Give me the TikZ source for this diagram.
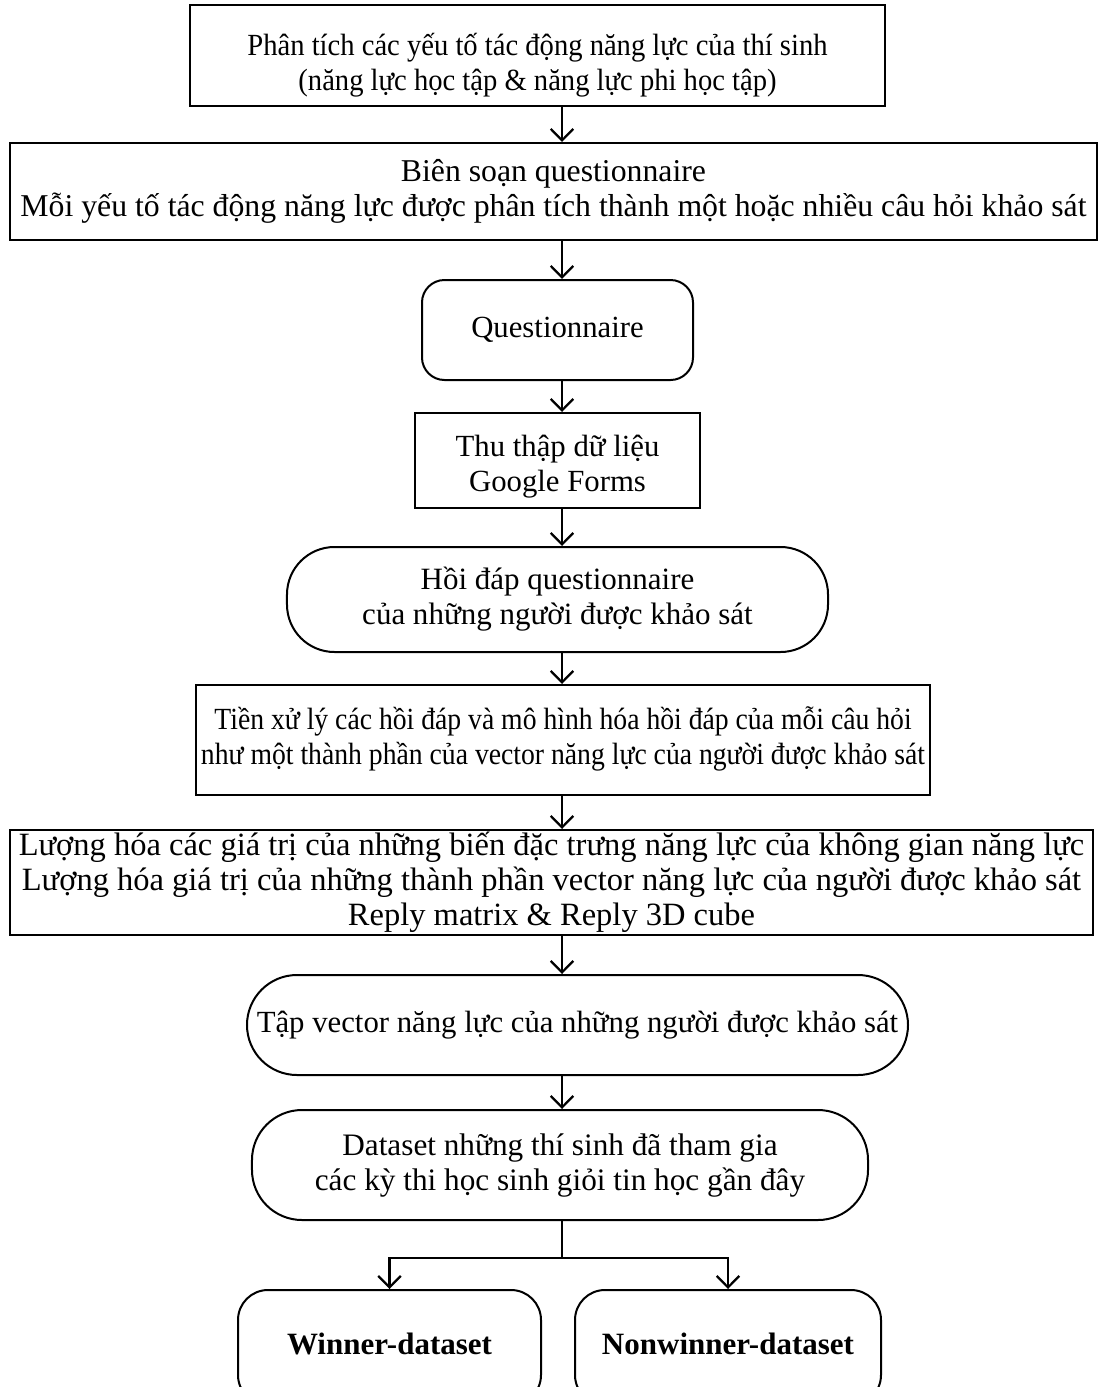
\documentclass[tikz,border=0pt]{standalone}
\usepackage{graphicx}
\usepackage{fontspec}
\setmainfont{Liberation Serif}
\usetikzlibrary{arrows.meta}
% centred block of lines, narrowed by #1 and moved down by #2, keeping the box height
\newcommand{\narrowlines}[3]{\raisebox{#2}[\height][\depth]{\scalebox{#1}[1]{\begin{tabular}{@{}c@{}}#3\end{tabular}}}}
\begin{document}
\begin{tikzpicture}[x=0.4pt, y=-0.4pt,
  every node/.style={align=center, inner sep=0pt},
  fs/.style={font=\fontsize{#1}{14pt}\selectfont},
  fs/.default=12.3pt,
  procbox/.style={draw, line width=0.8pt},
  roundbox/.style={draw, line width=0.8pt, rounded corners=#1},
  arr/.style={line width=0.9pt, -{Straight Barb[length=4.6pt, width=9pt, line width=0.9pt]}},
  link/.style={line width=0.9pt}
]
\useasboundingbox (0,0) rectangle (1098,1387);
\clip (0,0) rectangle (1098,1387);

% column of process steps
\node[procbox, fs, minimum width=278pt, minimum height=40.4pt] (b1) at (537.5,55.5)
  {\narrowlines{0.93}{-4pt}{Phân tích các yếu tố tác động năng lực của thí sinh\\(năng lực học tập \& năng lực phi học tập)}};
\node[procbox, fs=12.7pt, minimum width=434.8pt, minimum height=38.8pt] (b2) at (553.5,191.5)
  {Biên soạn questionnaire\\Mỗi yếu tố tác động năng lực được phân tích thành một hoặc nhiều câu hỏi khảo sát};
\node[roundbox=9pt, fs, minimum width=108.4pt, minimum height=40pt] (b3) at (557.5,330)
  {Questionnaire};
\node[procbox, fs, minimum width=114pt, minimum height=38pt] (b4) at (557.5,460.5)
  {\narrowlines{1}{-2.6pt}{Thu thập dữ liệu\\Google Forms}};
\node[roundbox=19pt, fs=12.4pt, minimum width=216.4pt, minimum height=42pt] (b5) at (557.5,599.5)
  {Hồi đáp questionnaire\\của những người được khảo sát};
\node[procbox, fs, minimum width=293.6pt, minimum height=44pt] (b6) at (563,740)
  {\narrowlines{0.9}{0pt}{Tiền xử lý các hồi đáp và mô hình hóa hồi đáp của mỗi câu hỏi\\như một thành phần của vector năng lực của người được khảo sát}};
\node[procbox, fs=13pt, minimum width=433.2pt, minimum height=42pt] (b7) at (551.5,882.5)
  {Lượng hóa các giá trị của những biến đặc trưng năng lực của không gian năng lực\\Lượng hóa giá trị của những thành phần vector năng lực của người được khảo sát\\Reply matrix \& Reply 3D cube};
\node[roundbox=20pt, fs, minimum width=264.4pt, minimum height=40pt] (b8) at (577.5,1025)
  {Tập vector năng lực của những người được khảo sát};
\node[roundbox=20pt, fs=12.5pt, minimum width=246.4pt, minimum height=44pt] (b9) at (560,1165)
  {Dataset những thí sinh đã tham gia\\các kỳ thi học sinh giỏi tin học gần đây};

% the two resulting datasets
\node[roundbox=12pt, fs=12.4pt, minimum width=121.2pt, minimum height=46pt] (b10) at (389.5,1347.5)
  {\raisebox{3.2pt}{\textbf{Winner-dataset}}};
\node[roundbox=12pt, fs=12.4pt, minimum width=122.4pt, minimum height=46pt] (b11) at (728,1347.5)
  {\raisebox{3.2pt}{\textbf{Nonwinner-dataset}}};

% connectors
\coordinate (ax) at (562,0);
\draw[arr] (b1.south -| ax) -- (b2.north -| ax);
\draw[arr] (b2.south -| ax) -- (b3.north -| ax);
\draw[arr] (b3.south -| ax) -- (b4.north -| ax);
\draw[arr] (b4.south -| ax) -- (b5.north -| ax);
\draw[arr] (b5.south -| ax) -- (b6.north -| ax);
\draw[arr] (b6.south -| ax) -- (b7.north -| ax);
\draw[arr] (b7.south -| ax) -- (b8.north -| ax);
\draw[arr] (b8.south -| ax) -- (b9.north -| ax);

\coordinate (sp) at (562,1258);
\draw[link] (b9.south -| ax) -- (sp);
\draw[arr] (sp) -- (sp -| b10) -- (b10.north);
\draw[arr] (sp) -- (sp -| b11) -- (b11.north);
\end{tikzpicture}
\end{document}
